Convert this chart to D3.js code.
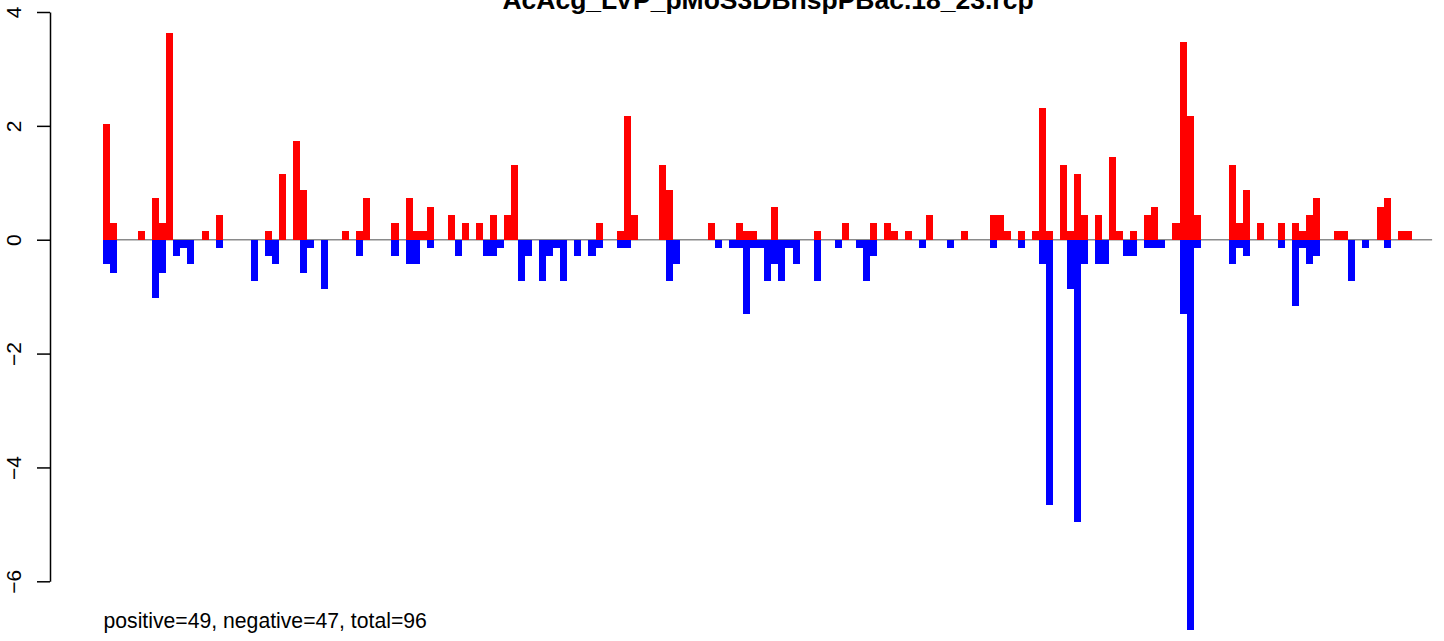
<!DOCTYPE html>
<html>
<head>
<meta charset="utf-8">
<script src="https://cdn.jsdelivr.net/npm/d3@7"></script>
<style>
  html, body { margin: 0; padding: 0; background: #ffffff; }
  svg { display: block; }
  text { font-family: "Liberation Sans", Arial, Helvetica, sans-serif; }
</style>
</head>
<body>
<svg id="chart" width="1444" height="641"></svg>
<script>
// ---- data ----
const chartTitle = "AcAcg_LVP_pMoS3DBhspPBac.18_23.rcp";
const footerText = "positive=49, negative=47, total=96";
const yTickValues = [-6, -4, -2, 0, 2, 4];

// bar positions 0..185
const positions = d3.range(186);

// positive (red) values per position
const positiveValues = [
  2.03, 0.29, 0, 0, 0, 0.145, 0, 0.725, 0.29, 3.625,
  0, 0, 0, 0, 0.145, 0, 0.435, 0, 0, 0,
  0, 0, 0, 0.145, 0, 1.16, 0, 1.74, 0.87, 0,
  0, 0, 0, 0, 0.145, 0, 0.145, 0.725, 0, 0,
  0, 0.29, 0, 0.725, 0.145, 0.145, 0.58, 0, 0, 0.435,
  0, 0.29, 0, 0.29, 0, 0.435, 0, 0.435, 1.305, 0,
  0, 0, 0, 0, 0, 0, 0, 0, 0, 0,
  0.29, 0, 0, 0.145, 2.175, 0.435, 0, 0, 0, 1.305,
  0.87, 0, 0, 0, 0, 0, 0.29, 0, 0, 0,
  0.29, 0.145, 0.145, 0, 0, 0.58, 0, 0, 0, 0,
  0, 0.145, 0, 0, 0, 0.29, 0, 0, 0, 0.29,
  0, 0.29, 0.145, 0, 0.145, 0, 0, 0.435, 0, 0,
  0, 0, 0.145, 0, 0, 0, 0.435, 0.435, 0.145, 0,
  0.145, 0, 0.145, 2.32, 0.145, 0, 1.305, 0.145, 1.16, 0.435,
  0, 0.435, 0, 1.45, 0.145, 0, 0.145, 0, 0.435, 0.58,
  0, 0, 0.29, 3.48, 2.175, 0.435, 0, 0, 0, 0,
  1.305, 0.29, 0.87, 0, 0.29, 0, 0, 0.29, 0, 0.29,
  0.145, 0.435, 0.725, 0, 0, 0.145, 0.145, 0, 0, 0,
  0, 0.58, 0.725, 0, 0.145, 0.145
];

// negative (blue) values per position
const negativeValues = [
  -0.435, -0.58, 0, 0, 0, 0, 0, -1.015, -0.58, 0,
  -0.29, -0.145, -0.435, 0, 0, 0, -0.145, 0, 0, 0,
  0, -0.725, 0, -0.29, -0.435, 0, 0, 0, -0.58, -0.145,
  0, -0.87, 0, 0, 0, 0, -0.29, 0, 0, 0,
  0, -0.29, 0, -0.435, -0.435, 0, -0.145, 0, 0, 0,
  -0.29, 0, 0, 0, -0.29, -0.29, -0.145, 0, 0, -0.725,
  -0.29, 0, -0.725, -0.29, -0.145, -0.725, 0, -0.29, 0, -0.29,
  -0.145, 0, 0, -0.145, -0.145, 0, 0, 0, 0, 0,
  -0.725, -0.435, 0, 0, 0, 0, 0, -0.145, 0, -0.145,
  -0.145, -1.305, -0.145, -0.145, -0.725, -0.435, -0.725, -0.145, -0.435, 0,
  0, -0.725, 0, 0, -0.145, 0, 0, -0.145, -0.725, -0.29,
  0, 0, 0, 0, 0, 0, -0.145, 0, 0, 0,
  -0.145, 0, 0, 0, 0, 0, -0.145, 0, 0, 0,
  -0.145, 0, 0, -0.435, -4.66, 0, 0, -0.87, -4.95, -0.435,
  0, -0.435, -0.435, 0, 0, -0.29, -0.29, 0, -0.145, -0.145,
  -0.145, 0, 0, -1.305, -6.85, -0.145, 0, 0, 0, 0,
  -0.435, -0.145, -0.29, 0, 0, 0, 0, -0.145, 0, -1.16,
  -0.145, -0.435, -0.29, 0, 0, 0, 0, -0.725, 0, -0.145,
  0, 0, -0.145, 0, 0, 0
];

// ---- drawing ----
const svg = d3.select("#chart");

const x = d3.scaleLinear().domain([0, positions.length]).range([103, 1411.7]);
const y = d3.scaleLinear().domain([-6, 4]).range([581.3, 12]);

// zero reference line (drawn beneath bars)
svg.append("line")
  .attr("x1", x(0)).attr("x2", x(188.9))
  .attr("y1", y(0)).attr("y2", y(0))
  .attr("stroke", "#8a8a8a").attr("stroke-width", 1.6);

const bars = svg.append("g").attr("shape-rendering", "crispEdges");

bars.selectAll("rect.pos")
  .data(positions.filter(i => positiveValues[i] > 0))
  .join("rect")
  .attr("class", "pos")
  .attr("x", i => x(i))
  .attr("width", i => x(i + 1) - x(i))
  .attr("y", i => y(positiveValues[i]))
  .attr("height", i => y(0) - y(positiveValues[i]))
  .attr("fill", "#ff0000");

bars.selectAll("rect.neg")
  .data(positions.filter(i => negativeValues[i] < 0))
  .join("rect")
  .attr("class", "neg")
  .attr("x", i => x(i))
  .attr("width", i => x(i + 1) - x(i))
  .attr("y", y(0))
  .attr("height", i => y(negativeValues[i]) - y(0))
  .attr("fill", "#0000ff");

// y axis
const axisG = svg.append("g")
  .attr("transform", "translate(50,0)")
  .call(d3.axisLeft(y).tickValues(yTickValues).tickSize(13).tickSizeOuter(0)
        .tickFormat(d => d < 0 ? "\u2212" + Math.abs(d) : String(d)));
axisG.select(".domain").attr("stroke", "#000").attr("stroke-width", 1.5);
axisG.selectAll(".tick line").attr("stroke", "#000").attr("stroke-width", 1.5);
axisG.selectAll(".tick text")
  .attr("transform", "rotate(-90)")
  .attr("x", 0)
  .attr("y", -29)
  .attr("dy", 0)
  .attr("text-anchor", "middle")
  .attr("fill", "#000")
  .style("font-size", "21px")
  .style("font-family", "'Liberation Sans', Arial, Helvetica, sans-serif");

// title (partially clipped at the top, as in the reference)
svg.append("text")
  .attr("x", 768).attr("y", 9)
  .attr("text-anchor", "middle")
  .style("font-size", "26.5px")
  .style("font-weight", "bold")
  .text(chartTitle);

// footer text
svg.append("text")
  .attr("x", 103.5).attr("y", 628)
  .style("font-size", "21.2px")
  .text(footerText);
</script>
</body>
</html>
